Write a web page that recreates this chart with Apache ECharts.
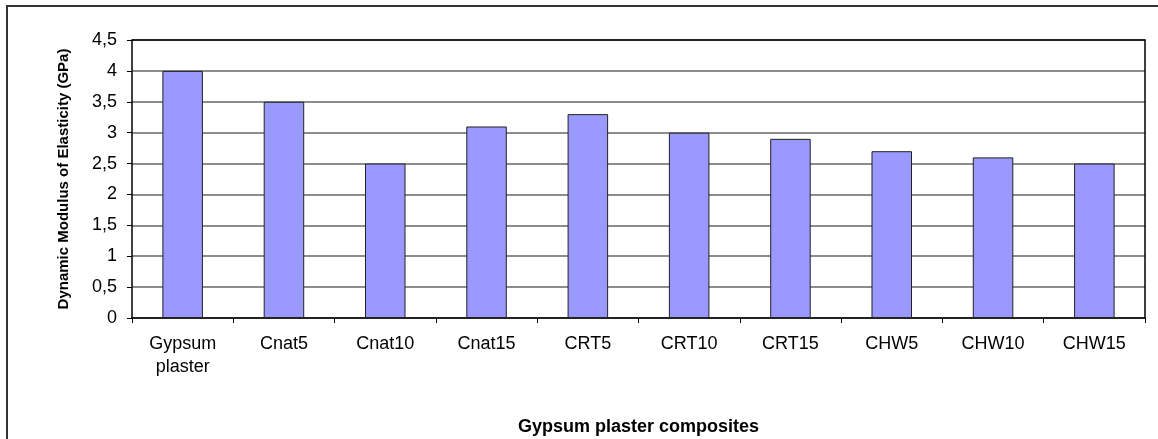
<!DOCTYPE html>
<html>
<head>
<meta charset="utf-8">
<script src="https://cdn.jsdelivr.net/npm/echarts@6/dist/echarts.min.js"></script>
<style>
  html, body { margin: 0; padding: 0; background: #fff; }
  #container { width: 1158px; height: 439px; }
</style>
</head>
<body>
<div id="container"></div>
<script>
const categories = ["Gypsum\nplaster", "Cnat5", "Cnat10", "Cnat15", "CRT5", "CRT10", "CRT15", "CHW5", "CHW10", "CHW15"];
const modulusValues = [4, 3.5, 2.5, 3.1, 3.3, 3.0, 2.9, 2.7, 2.6, 2.5];

const chart = echarts.init(document.getElementById("container"));

const option = {
  animation: false,
  graphic: [
    {
      // outer chart border
      type: "rect",
      shape: { x: 7, y: 6, width: 1200, height: 500 },
      style: { fill: "none", stroke: "#333", lineWidth: 2 },
      silent: true
    },
    {
      // top and right edges of the plot area
      type: "polyline",
      shape: { points: [[132, 40], [1145, 40], [1145, 318]] },
      style: { fill: "none", stroke: "#000", lineWidth: 1.5 },
      silent: true,
      z: 10
    }
  ],
  grid: { left: 132, top: 40, right: 13, bottom: 121, containLabel: false, outerBoundsMode: "none" },
  xAxis: {
    type: "category",
    data: categories,
    name: "Gypsum plaster composites",
    nameLocation: "middle",
    nameGap: 100,
    nameTextStyle: { fontFamily: "Liberation Sans", fontWeight: "bold", fontSize: 18, color: "#000" },
    axisLine: { lineStyle: { color: "#000", width: 1.5 } },
    axisTick: { show: true, length: 5, lineStyle: { color: "#000" } },
    axisLabel: { fontFamily: "Liberation Sans", fontSize: 18, color: "#000", margin: 15, lineHeight: 23 }
  },
  yAxis: {
    type: "value",
    min: 0,
    max: 4.5,
    interval: 0.5,
    name: "Dynamic Modulus of Elasticity (GPa)",
    nameLocation: "middle",
    nameGap: 61,
    nameTextStyle: { fontFamily: "Liberation Sans", fontWeight: "bold", fontSize: 15, color: "#000" },
    axisLine: { show: true, lineStyle: { color: "#000", width: 1.5 } },
    axisTick: { show: true, length: 5, lineStyle: { color: "#000" } },
    axisLabel: {
      fontFamily: "Liberation Sans", fontSize: 18, color: "#000", margin: 15,
      formatter: function (v) { return String(v).replace(".", ","); }
    },
    splitLine: { show: true, lineStyle: { color: "#666", width: 1.5 } }
  },
  series: [
    {
      type: "bar",
      data: modulusValues,
      barWidth: "40%",
      itemStyle: { color: "#9999FF", borderColor: "#222", borderWidth: 1 }
    }
  ]
};

chart.setOption(option);
</script>
</body>
</html>
